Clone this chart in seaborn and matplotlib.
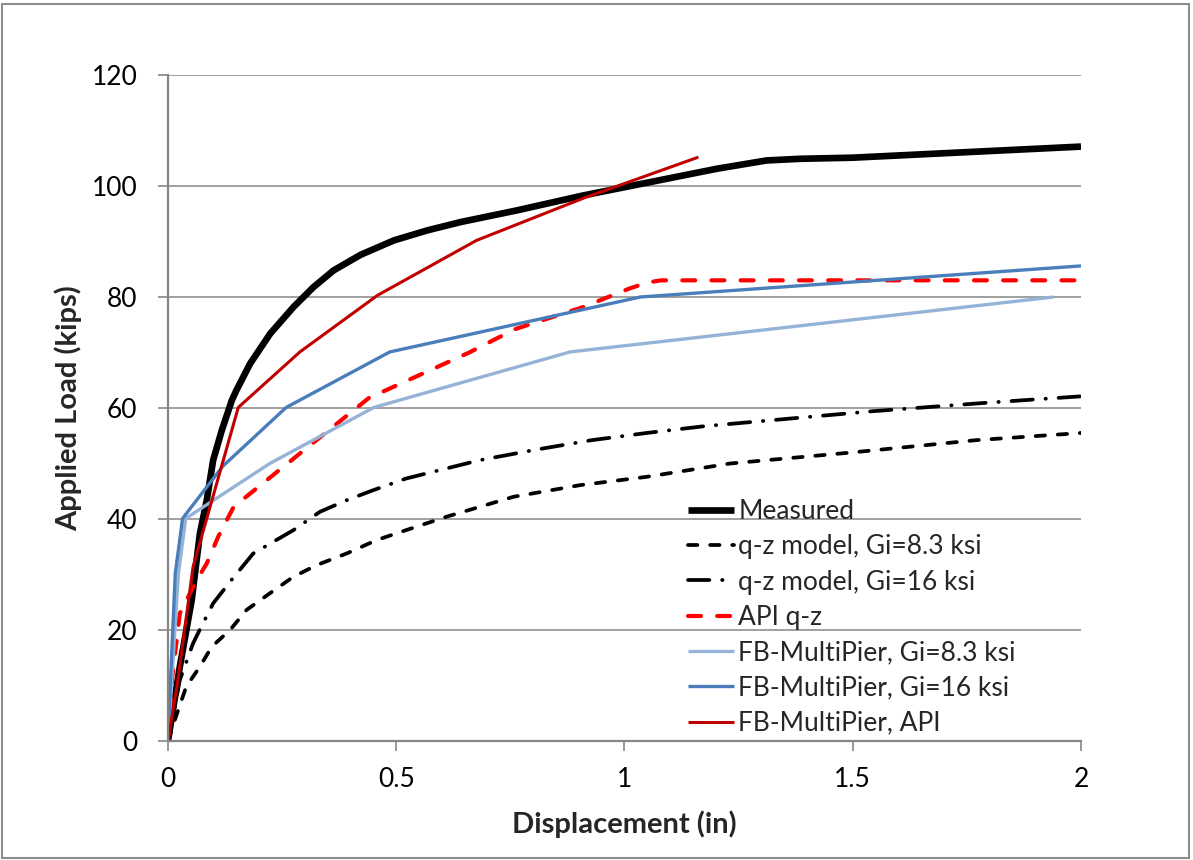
import matplotlib
matplotlib.use("Agg")
import matplotlib.pyplot as plt
from matplotlib.patches import Rectangle
import seaborn as sns
import pandas as pd

# Load-displacement data (displacement in inches, load in kips)
measured_disp = [0, 0.026, 0.052, 0.07, 0.085, 0.099, 0.118, 0.14, 0.15, 0.18, 0.224,
                 0.275, 0.319, 0.363, 0.422, 0.495, 0.568, 0.641, 0.764, 0.91, 1.056,
                 1.202, 1.311, 1.385, 1.5, 1.75, 2.0]
measured_load = [0, 13.4, 25.4, 37.4, 43.4, 50.6, 56.0, 61.4, 63.2, 68.0, 73.4,
                 78.2, 81.8, 84.8, 87.6, 90.2, 92.0, 93.5, 95.6, 98.3, 100.7,
                 103.1, 104.6, 104.9, 105.1, 106.1, 107.1]

qz83_disp = [0, 0.015, 0.04, 0.07, 0.096, 0.136, 0.172, 0.223, 0.275, 0.326, 0.392,
             0.457, 0.522, 0.61, 0.757, 0.903, 1.049, 1.232, 1.5, 1.77, 2.0]
qz83_load = [0, 3.8, 9.8, 13.4, 17.0, 20.0, 23.6, 26.6, 29.6, 31.7, 33.8,
             36.2, 38.0, 40.4, 44.0, 46.1, 47.6, 50.0, 52.0, 54.2, 55.5]

qz16_disp = [0, 0.012, 0.026, 0.055, 0.073, 0.099, 0.139, 0.187, 0.231, 0.275, 0.333,
             0.392, 0.45, 0.522, 0.566, 0.683, 0.807, 0.928, 1.049, 1.173, 1.541,
             1.786, 1.91, 2.0]
qz16_load = [0, 5.0, 11.0, 17.6, 20.6, 24.8, 29.0, 33.8, 35.9, 38.0, 41.3,
             43.4, 45.2, 47.3, 48.2, 50.6, 52.5, 54.2, 55.5, 56.7, 59.4,
             60.9, 61.6, 62.1]

api_qz_disp = [0, 0.01, 0.026, 0.063, 0.085, 0.11, 0.144, 0.44, 0.66, 0.76, 0.91,
               1.01, 1.05, 1.08, 2.0]
api_qz_load = [0, 12.0, 23.0, 29.0, 32.0, 36.8, 42.2, 61.8, 70.0, 74.2, 78.2,
               81.5, 82.6, 83.0, 83.0]

fb83_disp = [0, 0.023, 0.039, 0.223, 0.451, 0.881, 1.94]
fb83_load = [0, 30.2, 40.1, 50.0, 60.1, 70.1, 80.0]

fb16_disp = [0, 0.005, 0.016, 0.032, 0.12, 0.259, 0.486, 1.035, 2.0]
fb16_load = [0, 10.0, 30.2, 40.1, 49.5, 60.1, 70.1, 80.0, 85.6]

fbapi_disp = [0, 0.02, 0.055, 0.154, 0.289, 0.459, 0.676, 0.91, 1.162]
fbapi_load = [0, 10.0, 31.4, 60.1, 70.1, 80.3, 90.2, 97.8, 105.2]

series_names = ["Measured", "q-z model, Gi=8.3 ksi", "q-z model, Gi=16 ksi", "API q-z",
                "FB-MultiPier, Gi=8.3 ksi", "FB-MultiPier, Gi=16 ksi", "FB-MultiPier, API"]

x_ticks = [0, 0.5, 1, 1.5, 2]
x_tick_labels = ["0", "0.5", "1", "1.5", "2"]
y_ticks = [0, 20, 40, 60, 80, 100, 120]

sns.set_style("white")
plt.rcParams["font.family"] = ["Lato", "DejaVu Sans"]

fig = plt.figure(figsize=(11.93, 8.6), dpi=100)
ax = fig.add_axes([0.1408, 0.1384, 0.9061 - 0.1408, 0.9128 - 0.1384])

# Outer chart border
fig.patches.append(Rectangle((0.002, 0.002), 0.995, 0.993, transform=fig.transFigure,
                             fill=False, edgecolor="#8C8C8C", linewidth=1.5))

data = [
    (measured_disp, measured_load, dict(color="black", linewidth=4.8, linestyle="-")),
    (qz83_disp, qz83_load, dict(color="black", linewidth=2.7, linestyle=(0, (2.5, 3.4)))),
    (qz16_disp, qz16_load, dict(color="black", linewidth=2.7, linestyle=(0, (5.7, 3.4, 0.1, 3.4)))),
    (api_qz_disp, api_qz_load, dict(color="#FF0000", linewidth=3.0, linestyle=(0, (3.1, 3.9)))),
    (fb83_disp, fb83_load, dict(color="#95B3D7", linewidth=2.4, linestyle="-")),
    (fb16_disp, fb16_load, dict(color="#4A7EBB", linewidth=2.4, linestyle="-")),
    (fbapi_disp, fbapi_load, dict(color="#C00000", linewidth=2.2, linestyle="-")),
]

for name, (xs, ys, style) in zip(series_names, data):
    df = pd.DataFrame({"disp": xs, "load": ys})
    sns.lineplot(data=df, x="disp", y="load", ax=ax, sort=False, estimator=None,
                 label=name, dash_capstyle="round", solid_capstyle="butt", **style)

ax.set_xlim(0, 2)
ax.set_ylim(0, 120)
ax.set_xticks(x_ticks)
ax.set_xticklabels(x_tick_labels)
ax.set_yticks(y_ticks)
ax.yaxis.grid(True, color="#A0A0A0", linewidth=1.4)
ax.xaxis.grid(False)
ax.set_axisbelow(True)

for side in ["top", "right"]:
    ax.spines[side].set_visible(False)
for side in ["left", "bottom"]:
    ax.spines[side].set_color("#868686")
    ax.spines[side].set_linewidth(1.6)

ax.tick_params(axis="both", which="major", direction="out", length=7, width=1.2,
               color="#868686", labelsize=19, labelcolor="black", bottom=True, left=True)
ax.tick_params(axis="y", pad=15)
ax.tick_params(axis="x", pad=12)

ax.set_xlabel("Displacement (in)", fontsize=21, fontweight="bold", labelpad=13)
ax.set_ylabel("Applied Load (kips)", fontsize=21, fontweight="bold", labelpad=7)

leg = ax.legend(loc="upper left", bbox_to_anchor=(688 / 1193, 1 - 499 / 860),
                bbox_transform=fig.transFigure, frameon=False, fontsize=19,
                handlelength=1.75, handletextpad=0.15, labelspacing=0.39,
                borderpad=0, borderaxespad=0)

fig.savefig("out.png", dpi=100, facecolor="white")
